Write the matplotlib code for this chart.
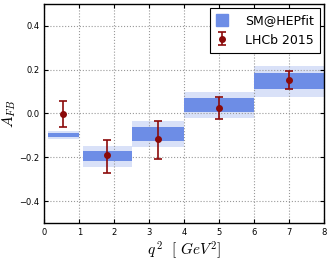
import numpy as np
import matplotlib
matplotlib.use("Agg")
import matplotlib.pyplot as plt
import matplotlib.patches as patches

plt.rcParams["mathtext.fontset"] = "cm"

# ── DATA ──────────────────────────────────────────────────────────────────────
bin_lo = [0.1, 1.1, 2.5, 4.0, 6.0]
bin_hi = [0.98, 2.5, 4.0, 6.0, 8.0]

# SM@HEPfit prediction: 1 sigma (dark) and 2 sigma (light) bands
sm_1s_lo = [-0.106, -0.218, -0.127, 0.008, 0.110]
sm_1s_hi = [-0.090, -0.173, -0.060, 0.072, 0.184]
sm_2s_lo = [-0.115, -0.243, -0.154, -0.019, 0.077]
sm_2s_hi = [-0.080, -0.148, -0.033, 0.100, 0.218]

# LHCb 2015 measurement
lhcb_x = [0.54, 1.8, 3.25, 5.0, 7.0]
lhcb_y = [-0.003, -0.191, -0.118, 0.025, 0.152]
lhcb_err_up = [0.058, 0.068, 0.082, 0.051, 0.041]
lhcb_err_dn = [0.057, 0.080, 0.090, 0.052, 0.040]

# ── STYLE ─────────────────────────────────────────────────────────────────────
LIGHT = "#d9e1f8"
DARK = "#6d8de6"
RED = "#8b0a0a"

fig = plt.figure(figsize=(3.32, 2.60), dpi=100)
ax = fig.add_axes([0.134, 0.142, 0.842, 0.843])

for lo, hi, a, b, c, d in zip(bin_lo, bin_hi, sm_2s_lo, sm_2s_hi, sm_1s_lo, sm_1s_hi):
    ax.fill_between([lo, hi], [a, a], [b, b], color=LIGHT, linewidth=0, zorder=1)
    ax.fill_between([lo, hi], [c, c], [d, d], color=DARK, linewidth=0, zorder=2)

eb = ax.errorbar(lhcb_x, lhcb_y, yerr=[lhcb_err_dn, lhcb_err_up], fmt="o",
                 color=RED, ecolor=RED, markersize=4, capsize=3, capthick=1.2,
                 elinewidth=1.2, zorder=3)

ax.set_xlim(0, 8)
ax.set_ylim(-0.5, 0.5)
ax.set_xticks(range(0, 9))
ax.set_yticks([-0.4, -0.2, 0.0, 0.2, 0.4])
ax.grid(True, linestyle=":", color="#999999", linewidth=0.8)
ax.tick_params(direction="in", labelsize=6, length=3, top=True, right=True)
for s in ax.spines.values():
    s.set_linewidth(1.0)

ax.set_ylabel(r"$A_{FB}$", fontsize=11, labelpad=1)
ax.yaxis.set_label_coords(-0.095, 0.5)
ax.set_xlabel(r"$q^{\,2}\ \ [\ GeV^2]$", fontsize=11, labelpad=2)

sm_patch = patches.Patch(color=DARK)
leg = ax.legend([sm_patch, eb], ["SM@HEPfit", "LHCb 2015"],
                loc="upper right", fontsize=9, fancybox=False, framealpha=1,
                edgecolor="black", borderpad=0.5, handlelength=0.9,
                handleheight=1.1, handletextpad=1.4, labelspacing=0.5,
                borderaxespad=0.3)
leg.get_frame().set_linewidth(0.8)

fig.savefig("out.png", dpi=100)
